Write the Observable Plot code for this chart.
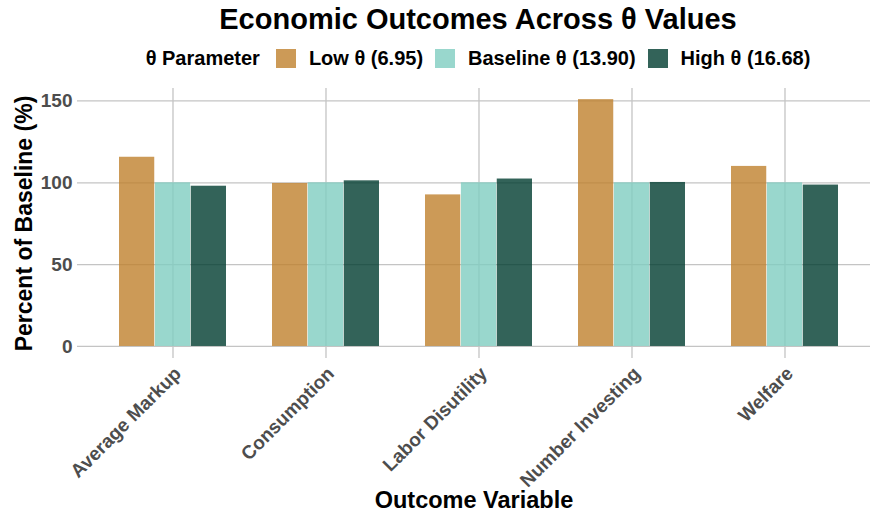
<!DOCTYPE html>
<html><head><meta charset="utf-8">
<script src="https://cdn.jsdelivr.net/npm/d3@7"></script>
<script src="https://cdn.jsdelivr.net/npm/@observablehq/plot@0.6"></script>
<style>
body{margin:0;background:#fff;overflow:hidden;font-family:"Liberation Sans",Arial,sans-serif;}
#wrap{width:870px;height:520px;position:relative;overflow:hidden;}
#title{height:38px;line-height:38px;padding-left:86px;text-align:center;font-weight:bold;font-size:29px;color:#000;white-space:nowrap;}
#legend{height:40px;padding-left:86px;display:flex;justify-content:center;align-items:center;font-weight:bold;font-size:20px;color:#000;white-space:nowrap;}
#legend .ttl{margin-right:16px;}
#legend .item{display:flex;align-items:center;margin-right:12px;}
#legend .item:last-child{margin-right:0;}
#legend .sw{width:20px;height:19px;margin-right:13px;}
</style></head>
<body>
<div id="wrap">
<div id="title"></div>
<div id="legend"></div>
<div id="chart"></div>
</div>
<script>
const categories = ["Average Markup", "Consumption", "Labor Disutility", "Number Investing", "Welfare"];
const seriesNames = ["Low θ (6.95)", "Baseline θ (13.90)", "High θ (16.68)"];
const lowValues = [115.6, 99.6, 92.6, 150.8, 110.0];
const baselineValues = [100, 100, 100, 100, 100];
const highValues = [97.9, 101.2, 102.3, 100.2, 98.6];
const seriesColors = ["#bf812d", "#80cdc1", "#003c30"];
const yTicks = [0, 50, 100, 150];
const legendTitle = "θ Parameter";
const titleText = "Economic Outcomes Across θ Values";
const xTitle = "Outcome Variable";
const yTitle = "Percent of Baseline (%)";

const seriesValues = [lowValues, baselineValues, highValues];
const rows = [];
seriesNames.forEach((s, j) => categories.forEach((c, i) => rows.push({category: c, series: s, value: seriesValues[j][i]})));

document.getElementById("title").textContent = titleText;

// legend
const lg = document.getElementById("legend");
const t = document.createElement("span"); t.className = "ttl"; t.textContent = legendTitle; lg.appendChild(t);
seriesNames.forEach((s, j) => {
  const it = document.createElement("span"); it.className = "item";
  const sw = document.createElement("span"); sw.className = "sw"; sw.style.background = seriesColors[j]; sw.style.opacity = 0.8;
  const tx = document.createElement("span"); tx.textContent = s;
  it.appendChild(sw); it.appendChild(tx); lg.appendChild(it);
});

const W = 870, H = 442, mL = 77, mT = 10, mB = 162;
const xRange = [mL, 879.3];
const pInner = 0.3, pOuter = 0.259;
const step = (xRange[1] - xRange[0]) / (categories.length - pInner + 2 * pOuter);
const third = step * (1 - pInner) / seriesNames.length;
const gridStyle = {stroke: "#c4c4c4", strokeOpacity: 1, strokeWidth: 1.3};

const chart = Plot.plot({
  width: W, height: H,
  marginLeft: mL, marginRight: 0, marginTop: mT, marginBottom: mB,
  style: {fontFamily: "Liberation Sans, Arial, sans-serif", background: "white", overflow: "visible"},
  x: {domain: categories, range: xRange, paddingInner: pInner, paddingOuter: pOuter, label: null},
  y: {domain: [-7.35, 157.6], label: null},
  marks: [
    Plot.gridY(yTicks, gridStyle),
    Plot.gridX(gridStyle),
    ...seriesNames.map((s, j) => Plot.barY(rows.filter(d => d.series === s), {
      x: "category", y1: 0, y2: "value", fill: seriesColors[j], fillOpacity: 0.8,
      insetLeft: j * third, insetRight: (seriesNames.length - 1 - j) * third
    })),
    Plot.axisY({ticks: yTicks, tickSize: 0, tickPadding: 5, label: null, fontSize: 19, fontWeight: "bold", fill: "#4d4d4d"}),
    Plot.axisX({tickSize: 0, tickPadding: 12, dx: 5, tickRotate: -45, label: null, fontSize: 19, fontWeight: "bold", fill: "#4d4d4d"}),
    Plot.text([xTitle], {text: d => d, frameAnchor: "bottom", dy: 149, fontSize: 23.5, fontWeight: "bold", fill: "#000"}),
    Plot.text([yTitle], {text: d => d, frameAnchor: "left", textAnchor: "middle", dx: -53, rotate: -90, fontSize: 23, fontWeight: "bold", fill: "#000"})
  ]
});
document.getElementById("chart").appendChild(chart);
</script>
</body></html>
